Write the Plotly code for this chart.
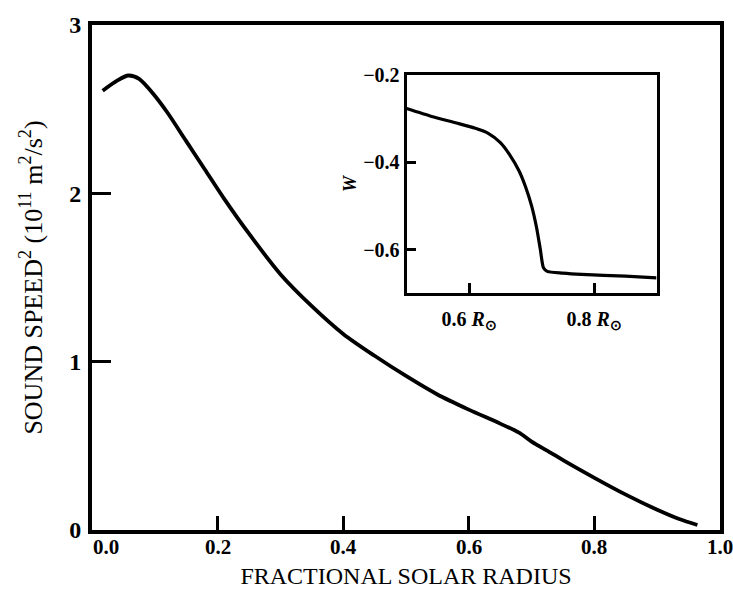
import plotly.graph_objects as go

# Main curve: sound speed squared (10^11 m^2/s^2) vs fractional solar radius
radius = [0.017, 0.04, 0.058, 0.075, 0.10, 0.12, 0.15, 0.18, 0.21, 0.25, 0.30, 0.35,
          0.40, 0.45, 0.50, 0.55, 0.60, 0.65, 0.68, 0.70, 0.73, 0.75, 0.80, 0.85,
          0.90, 0.935, 0.964]
speed2 = [2.61, 2.67, 2.70, 2.68, 2.58, 2.48, 2.31, 2.14, 1.97, 1.76, 1.52, 1.33,
          1.165, 1.035, 0.915, 0.805, 0.715, 0.632, 0.578, 0.525, 0.46, 0.415, 0.31, 0.21,
          0.12, 0.065, 0.030]

# Inset curve: W vs radius
inset_r = [0.500, 0.540, 0.580, 0.610, 0.630, 0.650, 0.665, 0.680, 0.690, 0.700,
           0.708, 0.714, 0.719, 0.725, 0.750, 0.780, 0.850, 0.900]
inset_w = [-0.277, -0.295, -0.310, -0.322, -0.333, -0.355, -0.383, -0.420, -0.455, -0.500,
           -0.550, -0.600, -0.642, -0.650, -0.654, -0.657, -0.661, -0.665]

x_ticks = [0.0, 0.2, 0.4, 0.6, 0.8, 1.0]
x_ticklabels = ["0.0", "0.2", "0.4", "0.6", "0.8", "1.0"]
y_ticks = [0, 1, 2, 3]
y_ticklabels = ["0", "1", "2", "3"]
inset_x_ticks = [0.6, 0.8]
inset_x_ticklabels = ["0.6 <i>R</i><sub>⊙</sub>", "0.8 <i>R</i><sub>⊙</sub>"]
inset_y_ticks = [-0.2, -0.4, -0.6]
inset_y_ticklabels = ["−0.2", "−0.4", "−0.6"]

SERIF = "Liberation Serif"

fig = go.Figure()
fig.add_trace(go.Scatter(x=radius, y=speed2, mode="lines",
                         line=dict(color="black", width=3.8, shape="spline", smoothing=0.8),
                         xaxis="x", yaxis="y", showlegend=False, hoverinfo="skip"))
fig.add_trace(go.Scatter(x=inset_r, y=inset_w, mode="lines",
                         line=dict(color="black", width=3.2, shape="spline", smoothing=0.6),
                         xaxis="x2", yaxis="y2", showlegend=False, hoverinfo="skip"))

axis_common = dict(showline=True, linecolor="black", mirror=True, showgrid=False, zeroline=False,
                   ticks="inside", tickcolor="black", automargin=False)

# x tick labels placed on the x scale as annotations (first label sits right of its tick)
for xv, lab in zip(x_ticks, x_ticklabels):
    fig.add_annotation(x=xv, y=0, xref="x", yref="paper", text=lab, showarrow=False,
                       xanchor="left" if xv == 0 else "center", yanchor="top", yshift=-3,
                       xshift=-1 if xv == 0 else 0,
                       font=dict(family=SERIF, size=21, color="black", weight="bold"))

fig.update_layout(
    width=733, height=589,
    margin=dict(l=92, r=13, t=25, b=59),
    paper_bgcolor="white", plot_bgcolor="white",
    xaxis=dict(axis_common, domain=[0, 1], range=[0, 1.0], linewidth=4,
               tickvals=x_ticks, ticklen=14, tickwidth=2.5, showticklabels=False,
               title=dict(text="FRACTIONAL SOLAR RADIUS", font=dict(family=SERIF, size=24, color="black"),
                          standoff=38)),
    yaxis=dict(axis_common, domain=[0, 1], range=[0, 3], linewidth=4,
               tickvals=y_ticks, ticktext=y_ticklabels, ticklen=19, tickwidth=2.5,
               tickfont=dict(family=SERIF, size=24, color="black", weight="bold"),
               ticklabelstandoff=2,
               title=dict(text="SOUND SPEED<sup>2</sup> (10<sup>11</sup> m<sup>2</sup>/s<sup>2</sup>)",
                          font=dict(family=SERIF, size=26, color="black"), standoff=20)),
    xaxis2=dict(axis_common, domain=[0.501, 0.899], range=[0.5, 0.9], anchor="y2", linewidth=3,
                tickvals=inset_x_ticks, ticktext=inset_x_ticklabels, ticklen=10, tickwidth=2.5,
                ticklabelstandoff=6,
                tickfont=dict(family=SERIF, size=20, color="black", weight="bold")),
    yaxis2=dict(axis_common, domain=[0.469, 0.901], range=[-0.7, -0.2], anchor="x2", linewidth=3,
                tickvals=inset_y_ticks, ticktext=inset_y_ticklabels, ticklen=9, tickwidth=2.5,
                ticklabelstandoff=0,
                tickfont=dict(family=SERIF, size=20, color="black", weight="bold"),
                title=dict(text="<i>W</i>", font=dict(family=SERIF, size=18, color="black", weight="bold"),
                           standoff=2)),
)

fig.write_html("out.html", config={"displayModeBar": False},
               post_script="document.body.style.margin='0';document.documentElement.style.overflow='hidden';")
